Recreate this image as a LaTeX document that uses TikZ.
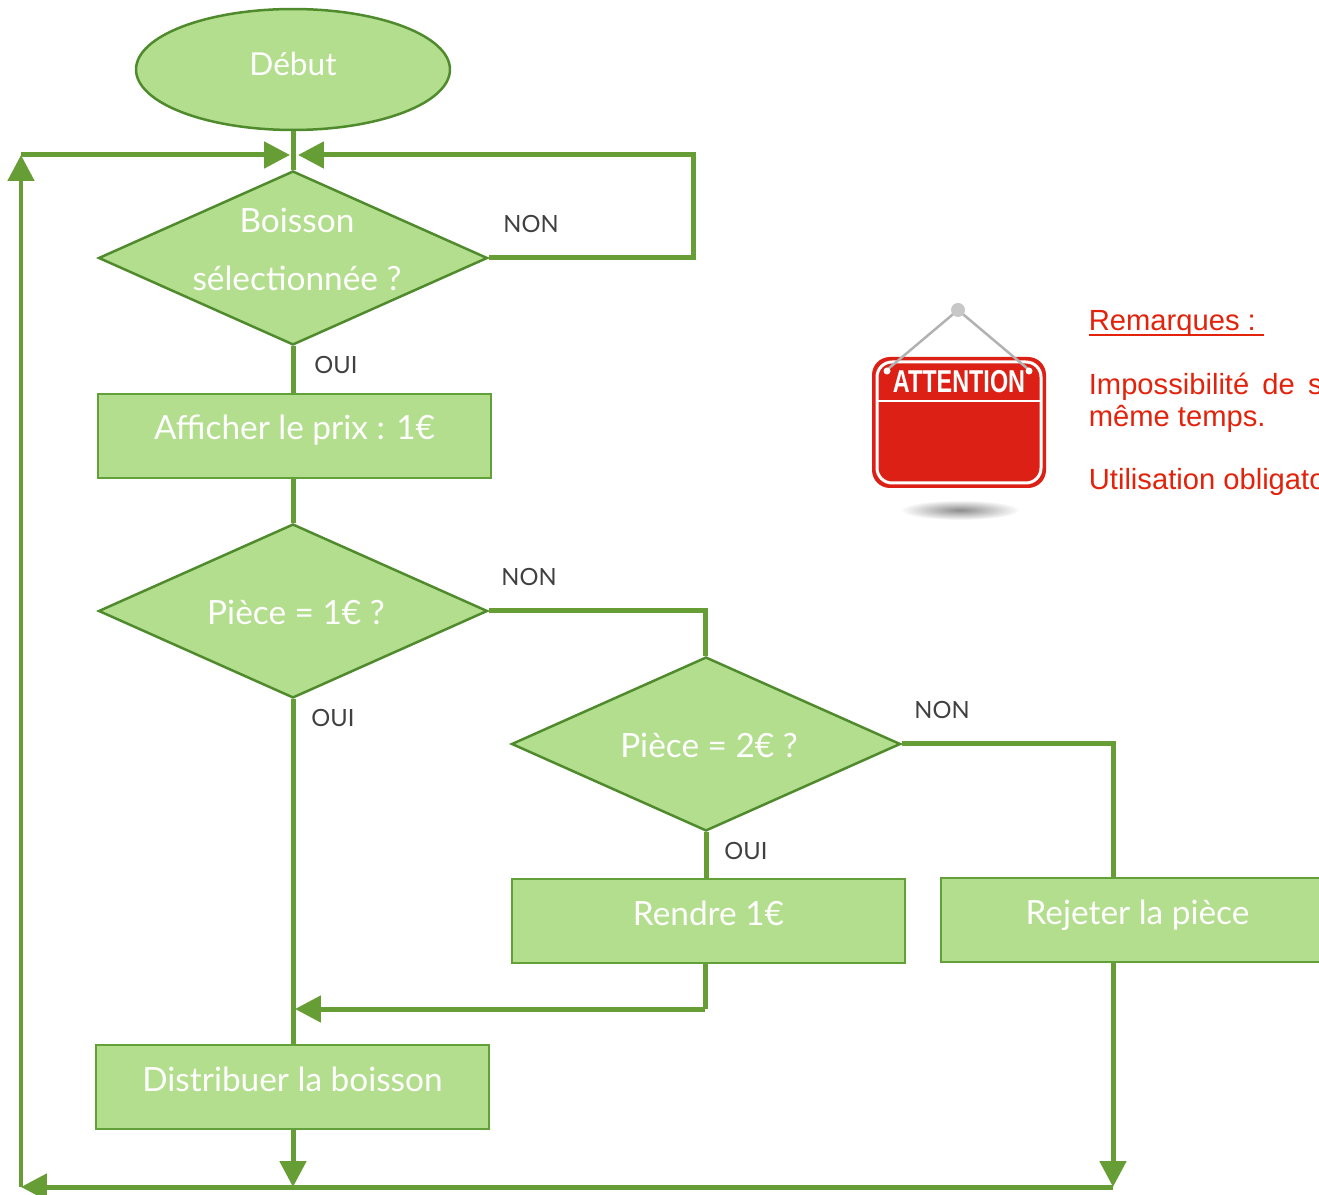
\documentclass[tikz,border=0pt]{standalone}
\usepackage{fontspec}
\setmainfont{Lato}
\newfontfamily\arialfont{Liberation Sans}
\usetikzlibrary{shapes.geometric}
\usetikzlibrary{arrows.meta}

\begin{document}
\begin{tikzpicture}[line join=miter,>={Triangle[length=0.52cm,width=0.52cm]},x=0.02cm,y=-0.02cm]
\definecolor{fillgreen}{rgb}{0.702,0.871,0.553}
\definecolor{edgegreen}{rgb}{0.31,0.541,0.176}
\definecolor{boxgreen}{rgb}{0.384,0.627,0.227}
\definecolor{linkgreen}{rgb}{0.4,0.616,0.204}
\definecolor{notered}{rgb}{0.89,0.133,0.043}
\definecolor{signred}{rgb}{0.863,0.125,0.082}
\tikzset{
  startnode/.style={shape=ellipse,draw=edgegreen,line width=0.05cm,fill=fillgreen,text=white,minimum width=6.28cm,minimum height=2.42cm,inner sep=0pt,font=\fontsize{18}{22}\selectfont,text height=0.26cm,text depth=0pt},
  decision/.style={shape=diamond,aspect=2.23,draw=edgegreen,line width=0.05cm,fill=fillgreen,text=white,minimum width=7.78cm,minimum height=3.48cm,inner sep=0pt,font=\fontsize{19}{33}\selectfont,text height=0.56cm,text depth=0pt},
  action/.style={shape=rectangle,draw=boxgreen,line width=0.05cm,fill=fillgreen,text=white,minimum width=7.86cm,minimum height=1.68cm,inner sep=0pt,font=\fontsize{19}{22}\selectfont,text height=0.16cm,text depth=0pt},
  link/.style={draw=linkgreen,line width=0.1cm},
  answer/.style={text=black!75,font=\fontsize{13.5}{15}\selectfont,inner sep=0pt}
}
\path[use as bounding box,clip] (0,0) rectangle (1319,1195);
% flow chart
\node[startnode] (debut) at (293,69.5) {Début};
\node[decision,align=center,text height=1.3cm,text depth=0pt] (choix) at (293,258) {\hspace*{0.16cm}Boisson\\\hspace*{0.16cm}sélectionnée ?};
\node[action] (prix) at (294.5,436) {Afficher le prix : 1€};
\node[decision] (un) at (293,611) {\hspace*{0.12cm}Pièce = 1€ ?};
\node[decision] (deux) at (706,744) {\hspace*{0.12cm}Pièce = 2€ ?};
\node[action] (rendre) at (708.5,921) {Rendre 1€};
\node[action] (rejet) at (1137.5,920) {Rejeter la pièce};
\node[action] (boisson) at (292.5,1087) {Distribuer la boisson};
\coordinate (retour) at (293,155);
\coordinate (haut) at (21,155);
\coordinate (bas) at (21,1187);
\coordinate (fin) at (1113,1187);
\coordinate (angleNon) at (693,258);
\coordinate (angleUn) at (705,611);
\coordinate (angleDeux) at (1113,744);
\coordinate (angleRendre) at (705,1009);
\draw[link] (debut.south) -- (choix.north);
\draw[link,->] (choix.east) -- (angleNon) -- (angleNon |- retour) -- (298,155);
\draw[link,->] (haut) -- (290,155);
\draw[link,->] (bas) -- (haut);
\draw[link,->] (fin) -- (bas);
\draw[link] (choix.south) -- (choix.south |- prix.north);
\draw[link] (choix.south |- prix.south) -- (un.north);
\draw[link] (un.south) -- (un.south |- boisson.north);
\draw[link] (un.east) -- (angleUn) -- (angleUn |- deux.north);
\draw[link] (deux.south) -- (deux.south |- rendre.north);
\draw[link] (deux.east) -- (angleDeux) -- (angleDeux |- rejet.north);
\draw[link,->] (angleDeux |- rejet.south) -- (fin);
\draw[link] (angleRendre |- rendre.south) -- (angleRendre);
\draw[link,->] (angleRendre) -- (295,1009);
\draw[link,->] (un.south |- boisson.south) -- (un.south |- fin);
\node[answer] (nonA) at (531,224) {NON};
\node[answer] (ouiA) at (336,365) {OUI};
\node[answer] (nonB) at (529,577) {NON};
\node[answer] (ouiB) at (333,718) {OUI};
\node[answer] (nonC) at (942,710) {NON};
\node[answer] (ouiC) at (746,851) {OUI};
% sign
\shade[inner color=black!45,outer color=white] (960,510) ellipse (60 and 10);
\fill[signred,rounded corners=0.36cm] (872,357) rectangle (1046,488);
\draw[white,line width=0.06cm,rounded corners=0.3cm] (877,362) rectangle (1041,483);
\draw[white,line width=0.05cm] (877,401) -- (1041,401);
\draw[black!30,line width=0.05cm] (888,369) -- (958,310) -- (1028,369);
\fill[white] (887,371) circle (3.5) (1029,371) circle (3.5);
\fill[black!22] (958,310) circle (7);
\node[text=white,font=\arialfont\bfseries\fontsize{18}{20}\selectfont,xscale=0.74,inner sep=0pt] (attention) at (959,382) {ATTENTION};
% remarks
\node[anchor=base west,align=left,inner sep=0pt,text=notered,font=\arialfont\fontsize{16.6}{18.14}\selectfont] (remarques) at (1088.5,490) {\rlap{\rule[-2.8pt]{99.5pt}{1.1pt}}Remarques :\\[18.14pt]{\spaceskip=7.5pt Impossibilité de s}\\même temps.\\[18.14pt]Utilisation obligato};
\end{tikzpicture}
\end{document}
